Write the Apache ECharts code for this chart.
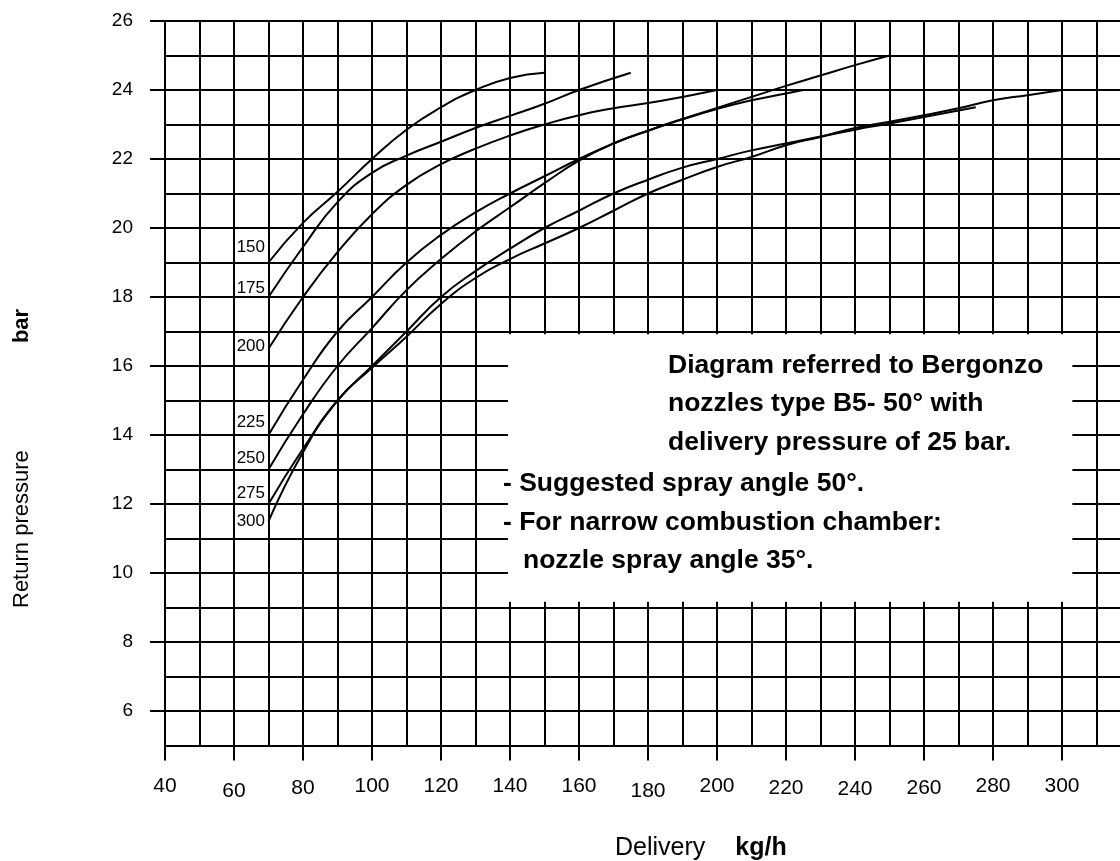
<!DOCTYPE html>
<html><head><meta charset="utf-8">
<script src="https://cdn.jsdelivr.net/npm/echarts@6/dist/echarts.min.js"></script>
<style>html,body{margin:0;padding:0;background:#fff}#c{width:1120px;height:861px}</style>
</head><body><div id="c"></div>
<script>
// ---- data ----
const nozzleNames = ['150', '175', '200', '225', '250', '275', '300'];
const curve150 = [[70,19.0],[80,20.15],[90,21.05],[100,22.0],[110,22.85],[120,23.5],[130,24.0],[140,24.35],[150,24.5]];
const curve175 = [[70,18.0],[80,19.45],[90,20.75],[100,21.6],[110,22.1],[120,22.5],[130,22.9],[140,23.25],[150,23.6],[160,24.0],[175,24.5]];
const curve200 = [[70,16.5],[80,18.0],[90,19.3],[100,20.4],[110,21.25],[120,21.85],[130,22.3],[140,22.68],[150,23.0],[160,23.27],[170,23.47],[180,23.62],[190,23.8],[200,24.0]];
const curve225 = [[70,14.0],[80,15.6],[90,17.0],[100,18.0],[110,19.0],[120,19.8],[130,20.45],[140,21.0],[150,21.5],[160,22.0],[170,22.45],[180,22.82],[190,23.15],[200,23.45],[210,23.7],[220,23.9],[225,24.0]];
const curve250 = [[70,13.0],[80,14.6],[90,16.0],[100,17.1],[110,18.2],[120,19.1],[130,19.9],[140,20.6],[150,21.3],[160,21.95],[170,22.45],[180,22.82],[190,23.16],[200,23.48],[210,23.8],[220,24.12],[230,24.42],[240,24.72],[250,25.0]];
const curve275 = [[70,12.0],[80,13.6],[90,15.0],[100,16.0],[110,17.0],[120,18.0],[130,18.75],[140,19.4],[150,20.0],[160,20.5],[170,21.0],[180,21.4],[190,21.75],[200,22.0],[210,22.25],[220,22.45],[230,22.65],[240,22.85],[250,23.03],[260,23.22],[275,23.5]];
const curve300 = [[70,11.5],[80,13.5],[90,15.0],[100,15.95],[110,16.85],[120,17.8],[130,18.55],[140,19.1],[150,19.55],[160,20.0],[170,20.5],[180,21.0],[190,21.4],[200,21.77],[210,22.06],[220,22.4],[230,22.64],[240,22.9],[250,23.08],[260,23.27],[270,23.47],[280,23.7],[290,23.85],[300,24.0]];
const xTickLabels = [40,60,80,100,120,140,160,180,200,220,240,260,280,300];
const yTickLabels = [6,8,10,12,14,16,18,20,22,24,26];
const noteLines = [
  'Diagram referred to Bergonzo',
  'nozzles type B5- 50\u00B0 with',
  'delivery pressure of 25 bar.',
  '- Suggested spray angle 50\u00B0.',
  '- For narrow combustion chamber:',
  'nozzle spray angle 35\u00B0.'
];
const yTitle = ['Return pressure', 'bar'];
const xTitle = ['Delivery', 'kg/h'];

// ---- styling (not data) ----
const curves = [curve150, curve175, curve200, curve225, curve250, curve275, curve300];
const labelLift = [15, 9, 2, 13, 11, 11, 0];
const xLabelDrop = { 60: 5, 80: 2, 180: 5, 220: 2, 240: 3, 260: 2 };
const tickFont = "'Liberation Sans',Arial,sans-serif";
const sans = "'Liberation Sans',Arial,sans-serif";
const noteX = [668, 668, 668, 503, 503, 523];
const noteY = [366, 404, 443, 484, 523, 561];

const series = curves.map((pts, k) => ({
  type: 'line',
  name: nozzleNames[k],
  symbol: 'none',
  smooth: 0.5,
  z: 3,
  lineStyle: { color: '#000', width: 2 },
  itemStyle: { color: '#000' },
  data: pts.map((p, i) => i === 0 ? {
    value: p,
    symbol: 'circle',
    symbolSize: 1,
    label: {
      show: true, position: 'left', distance: 3, offset: [0, -labelLift[k]],
      formatter: nozzleNames[k], fontFamily: tickFont, fontSize: 17, color: '#000'
    }
  } : p),
  animation: false
}));

series[0].markArea = {
  silent: true,
  itemStyle: { color: '#fff', opacity: 1, borderWidth: 0 },
  data: [[{ coord: [139.4, 16.92] }, { coord: [303, 9.17] }]]
};

const graphics = noteLines.map((t, i) => ({
  type: 'text', x: noteX[i], y: noteY[i], z: 100,
  style: { text: t, fill: '#000', font: 'bold 26.5px ' + sans, verticalAlign: 'middle', align: 'left' }
}));
graphics.push({
  type: 'text', x: 22, y: 608, rotation: Math.PI / 2, z: 100,
  style: { text: yTitle[0], align: 'left', verticalAlign: 'middle', font: '22px ' + sans, fill: '#000' }
});
graphics.push({
  type: 'text', x: 22, y: 326, rotation: Math.PI / 2, z: 100,
  style: { text: yTitle[1], align: 'center', verticalAlign: 'middle', font: 'bold 22px ' + sans, fill: '#000' }
});
graphics.push({
  type: 'text', x: 615, y: 848, z: 100,
  style: {
    text: '{r|' + xTitle[0] + '}{b|' + xTitle[1] + '}', align: 'left', verticalAlign: 'middle',
    rich: { r: { fontFamily: sans, fontSize: 25, fill: '#000' }, b: { fontFamily: sans, fontSize: 25, fontWeight: 'bold', fill: '#000', padding: [0, 0, 0, 30] } }
  }
});

const dropRich = {};
[0, 2, 3, 5].forEach(d => { dropRich['p' + d] = { padding: [d, 0, 0, 0], fontFamily: tickFont, fontSize: 21, color: '#000' }; });

const lineSt = { color: '#000', width: 2 };
const hidden = { show: false };
const option = {
  animation: false,
  backgroundColor: '#fff',
  grid: { left: 165, top: 21, width: 966, height: 724.5, containLabel: false, outerBoundsMode: 'none' },
  xAxis: [{
    type: 'value', min: 40, max: 320, interval: 10,
    axisLine: { show: true, onZero: false, lineStyle: lineSt },
    axisTick: { show: true, customValues: xTickLabels, length: 15, lineStyle: lineSt },
    axisLabel: {
      show: true, customValues: xTickLabels, margin: 30, fontFamily: tickFont, fontSize: 21, color: '#000',
      formatter: v => '{p' + (xLabelDrop[v] || 0) + '|' + v + '}', rich: dropRich
    },
    splitLine: hidden
  }, {
    type: 'value', min: 40, max: 320, interval: 10, position: 'bottom',
    axisLine: hidden, axisTick: hidden, axisLabel: hidden,
    splitLine: { show: true, lineStyle: lineSt }
  }],
  yAxis: [{
    type: 'value', min: 5, max: 26, interval: 1,
    axisLine: { show: true, onZero: false, lineStyle: lineSt },
    axisTick: { show: true, customValues: yTickLabels, length: 15, lineStyle: lineSt },
    axisLabel: { show: true, customValues: yTickLabels, margin: 32, fontFamily: tickFont, fontSize: 19, color: '#000' },
    splitLine: hidden
  }, {
    type: 'value', min: 5, max: 26, interval: 1, position: 'left',
    axisLine: hidden, axisTick: hidden, axisLabel: hidden,
    splitLine: { show: true, lineStyle: lineSt }
  }],
  graphic: graphics,
  series: series
};
const chart = echarts.init(document.getElementById('c'));
chart.setOption(option);
</script>
</body></html>
